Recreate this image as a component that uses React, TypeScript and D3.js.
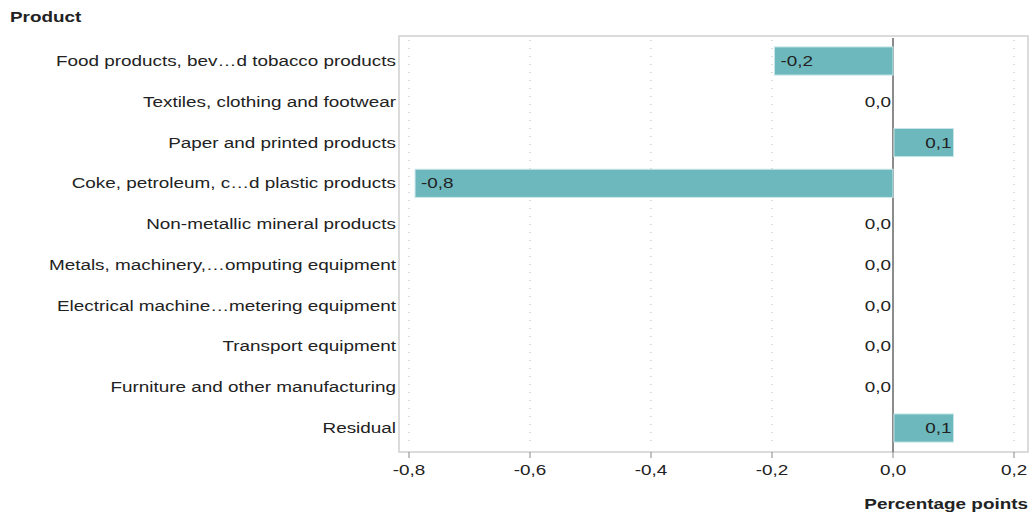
import React from "react";
import * as d3 from "d3";

const categories: string[] = [
  "Food products, bev\u2026d tobacco products",
  "Textiles, clothing and footwear",
  "Paper and printed products",
  "Coke, petroleum, c\u2026d plastic products",
  "Non-metallic mineral products",
  "Metals, machinery,\u2026omputing equipment",
  "Electrical machine\u2026metering equipment",
  "Transport equipment",
  "Furniture and other manufacturing",
  "Residual",
];
const values: number[] = [-0.196, 0.0, 0.1, -0.79, 0.0, 0.0, 0.0, 0.0, 0.0, 0.1];
const xTicks: number[] = [-0.8, -0.6, -0.4, -0.2, 0.0, 0.2];

const W = 1031;
const H = 517;
const frame = { left: 399, right: 1028, top: 36, bottom: 452 };
const font = "'Liberation Sans', Arial, sans-serif";
const barColor = "#6db8bd";
const textColor = "#222";
const SX = 1.26;

const fmt = (v: number) => d3.format(".1f")(v).replace(".", ",").replace("\u2212", "-");

function T(props: {
  x: number;
  y: number;
  anchor?: "start" | "middle" | "end";
  bold?: boolean;
  children: React.ReactNode;
}) {
  return (
    <text
      transform={`translate(${props.x},${props.y}) scale(${SX},1)`}
      fontSize={15}
      fontWeight={props.bold ? "bold" : "normal"}
      fill={textColor}
      textAnchor={props.anchor || "start"}
    >
      {props.children}
    </text>
  );
}

export default function App() {
  const x = d3.scaleLinear().domain([0, 0.2]).range([893, 1014]);
  const y = d3
    .scaleBand<string>()
    .domain(categories)
    .range([40.6, 448.4])
    .paddingInner(0.31)
    .paddingOuter(0.155);
  const bw = y.bandwidth();

  return (
    <svg width={W} height={H} style={{ position: "absolute", left: 0, top: 0 }} fontFamily={font}>
      <rect width={W} height={H} fill="#fff" />
      <T x={10} y={22} bold>
        Product
      </T>
      {/* frame */}
      <rect
        x={frame.left}
        y={frame.top}
        width={frame.right - frame.left}
        height={frame.bottom - frame.top}
        fill="none"
        stroke="#cfcfcf"
        strokeWidth={1.5}
      />
      {/* grid */}
      {xTicks.map((t) =>
        t === 0 ? null : (
          <line
            key={"g" + t}
            x1={x(t)}
            x2={x(t)}
            y1={frame.top + 4}
            y2={frame.bottom - 4}
            stroke="#b8b8b8"
            strokeWidth={1}
            strokeDasharray="1 7"
          />
        )
      )}
      {/* zero line */}
      <line x1={x(0)} x2={x(0)} y1={frame.top + 2} y2={frame.bottom} stroke="#666" strokeWidth={1.5} />
      {/* bars */}
      {values.map((v, i) => {
        const c = categories[i];
        const y0 = y(c)!;
        const x0 = Math.min(x(0), x(v));
        const w = Math.abs(x(v) - x(0));
        return (
          <g key={c}>
            {w > 0.5 && (
              <rect
                x={v < 0 ? x0 : x0 + 1}
                y={y0}
                width={v < 0 ? w : w - 1}
                height={bw}
                fill={barColor}
                stroke="#c8e6e8"
                strokeWidth={1}
              />
            )}
            {v < 0 ? (
              <T x={x(v) + 6} y={y0 + bw / 2 + 5}>
                {fmt(v)}
              </T>
            ) : (
              <T x={x(v) - 2} y={y0 + bw / 2 + 5} anchor="end">
                {fmt(v)}
              </T>
            )}
            <T x={frame.left - 3} y={y0 + bw / 2 + 5} anchor="end">
              {c}
            </T>
          </g>
        );
      })}
      {/* x axis ticks */}
      {xTicks.map((t) => (
        <g key={"t" + t}>
          <line x1={x(t)} x2={x(t)} y1={frame.bottom} y2={frame.bottom + 6} stroke="#888" strokeWidth={1} />
          <T x={x(t)} y={frame.bottom + 23} anchor="middle">
            {fmt(t)}
          </T>
        </g>
      ))}
      <T x={frame.right} y={509} anchor="end" bold>
        Percentage points
      </T>
    </svg>
  );
}
